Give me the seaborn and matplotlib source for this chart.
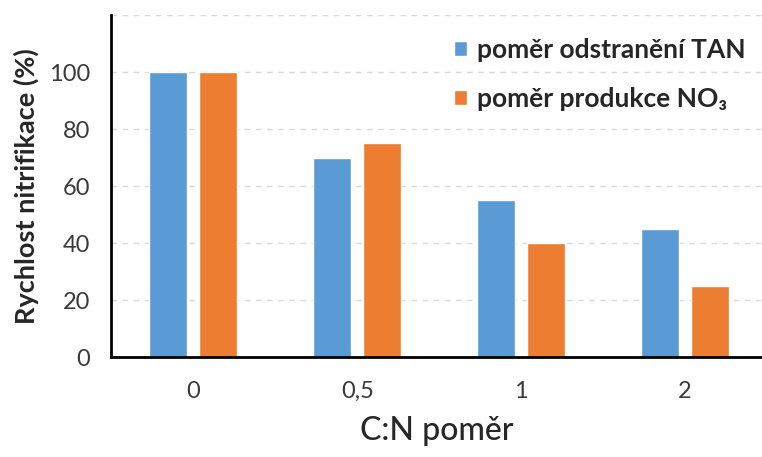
import matplotlib
matplotlib.use("Agg")
import matplotlib.pyplot as plt
import seaborn as sns
import pandas as pd
from matplotlib.patches import Patch

categories = ["0", "0,5", "1", "2"]
tan_removal = [100, 70, 55, 45]
no3_production = [100, 75, 40, 25]
series_names = ["poměr odstranění TAN", "poměr produkce NO₃"]
y_ticks = [0, 20, 40, 60, 80, 100]

blue = "#5b9bd5"
orange = "#ed7d31"

df = pd.DataFrame({
    "cn": categories * 2,
    "value": tan_removal + no3_production,
    "series": [series_names[0]] * len(categories) + [series_names[1]] * len(categories),
})

sns.set_theme(style="white")
plt.rcParams["font.family"] = ["Lato", "DejaVu Sans"]

fig = plt.figure(figsize=(7.62, 4.57), dpi=100)
ax = fig.add_axes([0.1457, 0.2188, 0.8543, 0.748])

sns.barplot(data=df, x="cn", y="value", hue="series", order=categories,
            hue_order=series_names, palette=[blue, orange],
            width=0.61, gap=0.24, saturation=1, ax=ax, legend=False)

ax.set_ylim(0, 120)
ax.set_xlim(-0.503, 3.47)
ax.set_yticks(y_ticks)
ax.set_yticklabels([str(t) for t in y_ticks], fontsize=17, color="#3a3a3a")
ax.set_xticks(range(len(categories)))
ax.set_xticklabels(categories, fontsize=17, color="#3a3a3a")
ax.tick_params(axis="x", length=0, pad=17)
ax.tick_params(axis="y", length=0, pad=15)

for v in [20, 40, 60, 80, 100, 120]:
    ax.axhline(v, color="#d9d9d9", lw=1, ls=(0, (4, 4)), zorder=0)

for side in ["top", "right"]:
    ax.spines[side].set_visible(False)
for side in ["left", "bottom"]:
    ax.spines[side].set_color("black")
    ax.spines[side].set_linewidth(2)

ax.set_xlabel("C:N poměr", fontsize=23, fontweight="medium", labelpad=10)
ax.set_ylabel("Rychlost nitrifikace (%)", fontsize=19.5, fontweight="bold", labelpad=7)

handles = [Patch(facecolor=blue), Patch(facecolor=orange)]
leg = ax.legend(handles, series_names, loc="upper right", bbox_to_anchor=(1.012, 1.003),
                frameon=False, handlelength=0.5, handleheight=0.5, handletextpad=0.4,
                labelspacing=0.95, prop={"size": 19, "weight": "bold"})

fig.savefig("out.png", dpi=100)
